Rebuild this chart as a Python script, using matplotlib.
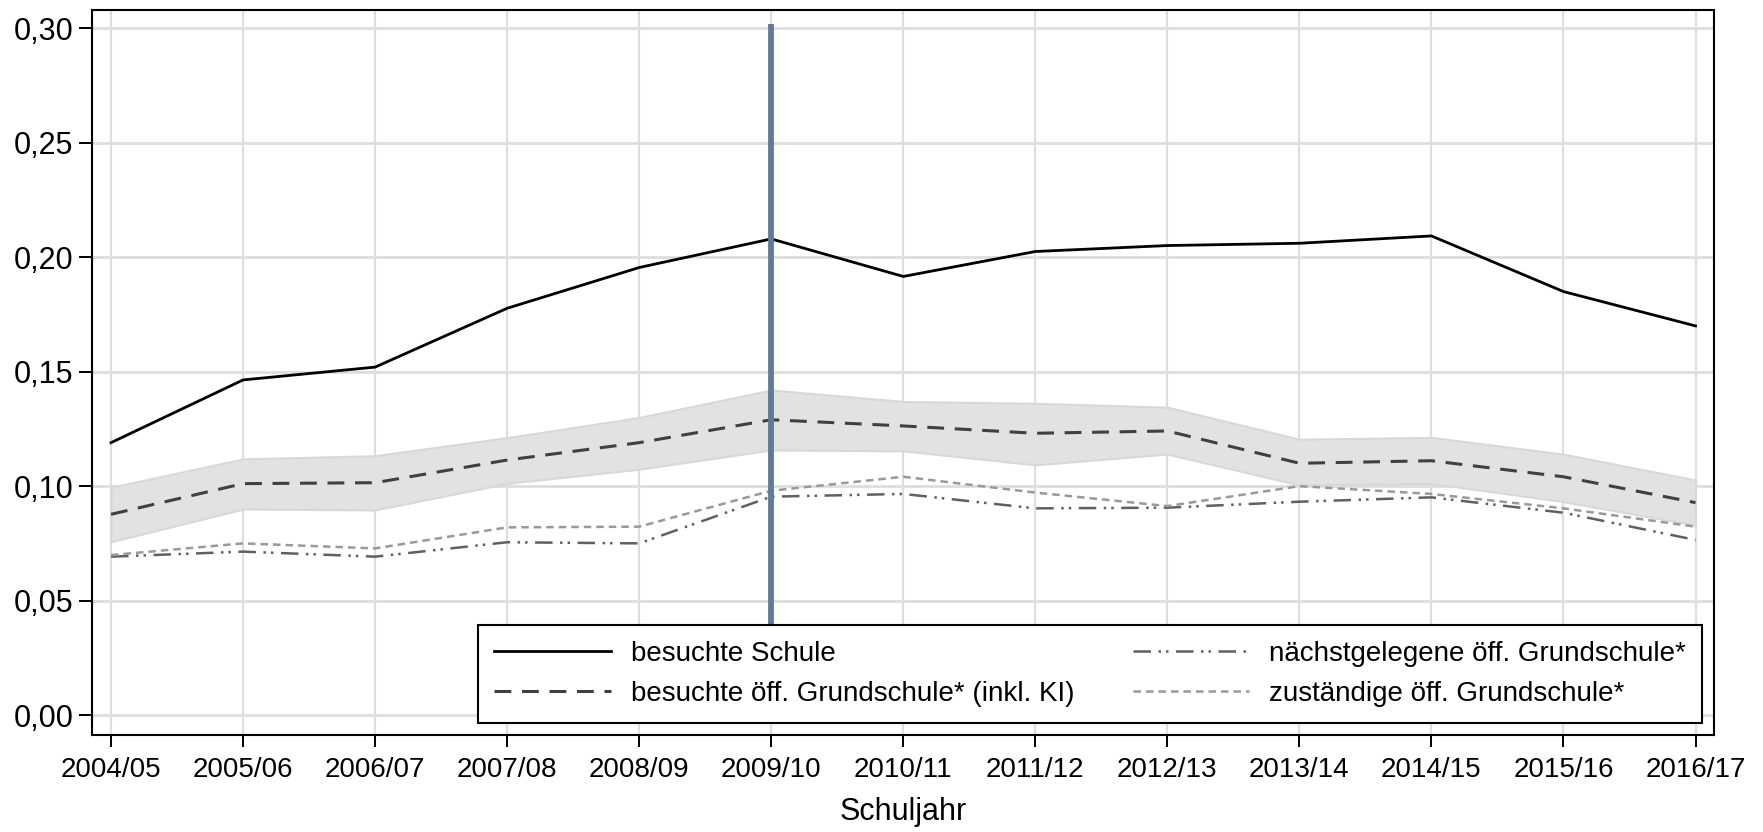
import matplotlib as mpl
import matplotlib.pyplot as plt
from matplotlib.ticker import FuncFormatter

mpl.rcParams['font.family'] = ['Liberation Sans', 'DejaVu Sans']
mpl.rcParams['font.size'] = 20

jahre = ['2004/05', '2005/06', '2006/07', '2007/08', '2008/09', '2009/10', '2010/11',
         '2011/12', '2012/13', '2013/14', '2014/15', '2015/16', '2016/17']

besuchte_schule = [0.119, 0.1464, 0.152, 0.1777, 0.1955, 0.208, 0.1916,
                   0.2025, 0.2051, 0.2061, 0.2093, 0.185, 0.170]
besuchte_oeff = [0.0877, 0.1011, 0.1015, 0.1114, 0.119, 0.129, 0.1263,
                 0.1231, 0.1241, 0.110, 0.1111, 0.1041, 0.0928]
ki_oben = [0.0995, 0.1119, 0.1133, 0.1212, 0.130, 0.142, 0.137,
           0.1362, 0.1345, 0.1205, 0.1213, 0.114, 0.1027]
ki_unten = [0.0757, 0.090, 0.0896, 0.1012, 0.1074, 0.1158, 0.1154,
            0.1093, 0.114, 0.1005, 0.1012, 0.0932, 0.083]
naechstgelegene = [0.0692, 0.0714, 0.0692, 0.0755, 0.075, 0.0954, 0.0966,
                   0.0903, 0.0906, 0.0932, 0.0951, 0.0884, 0.0765]
zustaendige = [0.0699, 0.075, 0.0728, 0.082, 0.0823, 0.098, 0.1041,
               0.0972, 0.0913, 0.100, 0.0966, 0.0903, 0.0823]

reform_jahr = '2009/10'
y_ticks = [0.0, 0.05, 0.10, 0.15, 0.20, 0.25, 0.30]

dpi = 100
fig = plt.figure(dpi=dpi, figsize=(1763 / dpi, 832 / dpi))
ax = fig.add_axes([0.0522, 0.1166, 0.92, 0.8714])

x = list(range(len(jahre)))

ax.fill_between(x, ki_unten, ki_oben, facecolor='#e2e2e2', edgecolor='#d8d8d8',
                linewidth=1.5, zorder=2)
ax.plot(x, besuchte_schule, color='black', linewidth=2.0, zorder=4,
        label='besuchte Schule')
ax.plot(x, besuchte_oeff, color='#404040', linewidth=2.2, dashes=(5.5, 3.5), zorder=4,
        label='besuchte öff. Grundschule* (inkl. KI)')
ax.plot(x, naechstgelegene, color='#606060', linewidth=1.8,
        dashes=(7, 3, 1, 2, 1, 3), zorder=4,
        label='nächstgelegene öff. Grundschule*')
ax.plot(x, zustaendige, color='#999999', linewidth=1.8, dashes=(3, 2), zorder=4,
        label='zuständige öff. Grundschule*')

# Reform-Markierung
rx = jahre.index(reform_jahr)
ax.vlines(rx, 0.038, 0.302, color='#5f7b99', linewidth=4.2, zorder=5)

ax.set_xlim(-0.144, len(jahre) - 1 + 0.14)
ax.set_ylim(-0.0087, 0.308)
ax.set_xticks(x)
ax.set_xticklabels(jahre)
ax.set_yticks(y_ticks)
ax.yaxis.set_major_formatter(FuncFormatter(lambda v, p: ('%.2f' % v).replace('.', ',')))

ax.xaxis.grid(True, color='#dedede', linewidth=1.6, zorder=0)
ax.yaxis.grid(True, color='#dedede', linewidth=2.0, zorder=0)
ax.set_axisbelow(True)

for s in ax.spines.values():
    s.set_linewidth(1.5)
    s.set_color('black')
ax.tick_params(axis='x', length=8.6, width=1.4, pad=7)
ax.tick_params(axis='y', length=9.4, width=1.4, pad=4, labelsize=22)

ax.set_xlabel('Schuljahr', labelpad=10, fontsize=22)

leg = ax.legend(loc='lower right', ncol=2, fancybox=False, framealpha=1,
                edgecolor='black', borderaxespad=0.43, handlelength=4.2,
                handletextpad=0.72, columnspacing=2.1, borderpad=0.58,
                labelspacing=0.5)
leg.get_frame().set_linewidth(1.5)
leg.set_zorder(6)

fig.savefig('out.png', dpi=dpi)
